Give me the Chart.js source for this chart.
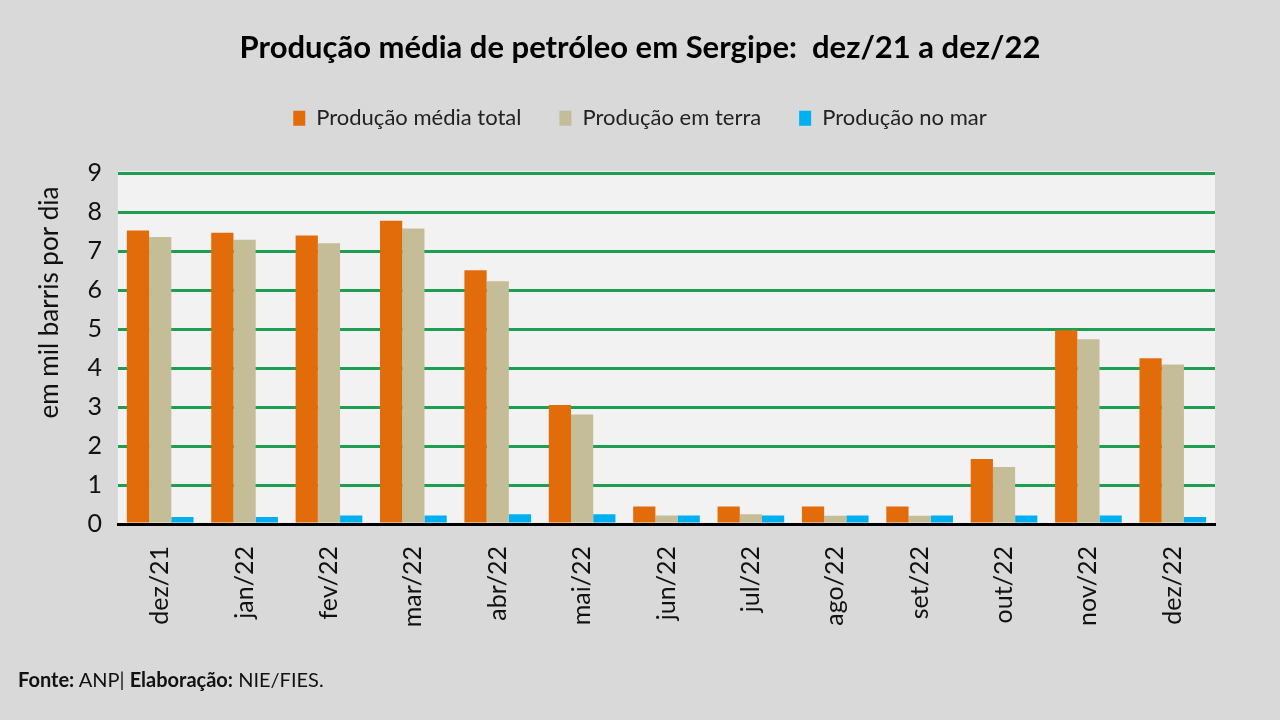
<!DOCTYPE html>
<html>
<head>
<meta charset="utf-8">
<script src="https://cdn.jsdelivr.net/npm/chart.js@4"></script>
<style>
  body { margin: 0; background: #d9d9d9; }
  #wrap { position: relative; width: 1280px; height: 720px; }
  #fonte { position: absolute; left: 18px; top: 667px; font-family: Lato, sans-serif; font-size: 20px; color: #111; }
</style>
</head>
<body>
<div id="wrap">
  <canvas id="myChart" width="1280" height="720"></canvas>
  <div id="fonte"><b>Fonte:</b> ANP| <b>Elaboração:</b> NIE/FIES.</div>
</div>
<script>
var meses = ['dez/21', 'jan/22', 'fev/22', 'mar/22', 'abr/22', 'mai/22', 'jun/22',
             'jul/22', 'ago/22', 'set/22', 'out/22', 'nov/22', 'dez/22'];
var total = [7.53, 7.47, 7.40, 7.78, 6.51, 3.05, 0.45, 0.45, 0.45, 0.45, 1.67, 4.97, 4.25];
var terra = [7.36, 7.29, 7.20, 7.58, 6.23, 2.81, 0.22, 0.25, 0.21, 0.21, 1.46, 4.74, 4.09];
var mar = [0.18, 0.18, 0.22, 0.22, 0.25, 0.25, 0.22, 0.22, 0.22, 0.22, 0.22, 0.22, 0.18];
var yTicks = [0, 1, 2, 3, 4, 5, 6, 7, 8, 9];

// fundo claro da area do grafico
var plotBg = {
  id: 'plotBg',
  beforeDraw: function(chart) {
    var a = chart.chartArea, c = chart.ctx;
    c.save();
    c.fillStyle = '#f2f2f2';
    c.fillRect(a.left, a.top - 2, a.right - a.left, a.bottom - a.top + 2);
    c.restore();
  }
};

let data = {
  labels: meses,
  datasets: [
    { label: 'Produção média total', data: total, backgroundColor: '#e36c0a' },
    { label: 'Produção em terra', data: terra, backgroundColor: '#c4bd97' },
    { label: 'Produção no mar', data: mar, backgroundColor: '#00b0f0' }
  ]
};

let options = {
  responsive: false,
  animation: false,
  layout: { padding: { left: 30, right: 30, top: 0, bottom: 92 } },
  datasets: { bar: { barPercentage: 1, categoryPercentage: 0.79 } },
  plugins: {
    title: {
      display: true,
      text: 'Produção média de petróleo em Sergipe:  dez/21 a dez/22',
      color: '#000',
      font: { family: 'Lato', size: 31, weight: 'bold' },
      padding: { top: 29, bottom: 3 }
    },
    // espaco entre legenda e grafico
    subtitle: {
      display: true,
      text: ' ',
      weight: 500,
      font: { size: 10 },
      padding: { top: 22, bottom: 0 }
    },
    legend: {
      labels: {
        color: '#222',
        font: { family: 'Lato', size: 22 },
        boxWidth: 12,
        boxHeight: 15,
        padding: 38
      }
    },
    tooltip: { enabled: false }
  },
  scales: {
    x: {
      grid: { display: false },
      border: { color: '#000', width: 3 },
      ticks: { color: '#111', font: { family: 'Lato', size: 25 }, minRotation: 90, maxRotation: 90, padding: 14 },
      afterFit: function(s) { s.height = 104; }
    },
    y: {
      min: 0, max: 9,
      afterBuildTicks: function(s) { s.ticks = yTicks.map(function(v) { return { value: v }; }); },
      grid: { color: '#1e9e50', lineWidth: 3, drawTicks: false },
      border: { display: false },
      ticks: { color: '#111', font: { family: 'Lato', size: 25 }, padding: 16 },
      title: {
        display: true, align: 'end',
        text: 'em mil barris por dia  ',
        color: '#111', font: { family: 'Lato', size: 26 },
        padding: { top: 4, bottom: 0 }
      },
      afterFit: function(s) { s.width = 88; }
    },
    // margem direita vazia, para centrar titulo e legenda
    margem: {
      position: 'right',
      grid: { display: false },
      border: { display: false },
      ticks: { display: false },
      afterFit: function(s) { s.width = 35; }
    }
  }
};

let ctx = document.getElementById('myChart').getContext('2d');
let myChart = new Chart(ctx, { type: 'bar', data: data, options: options, plugins: [plotBg] });
</script>
</body>
</html>
